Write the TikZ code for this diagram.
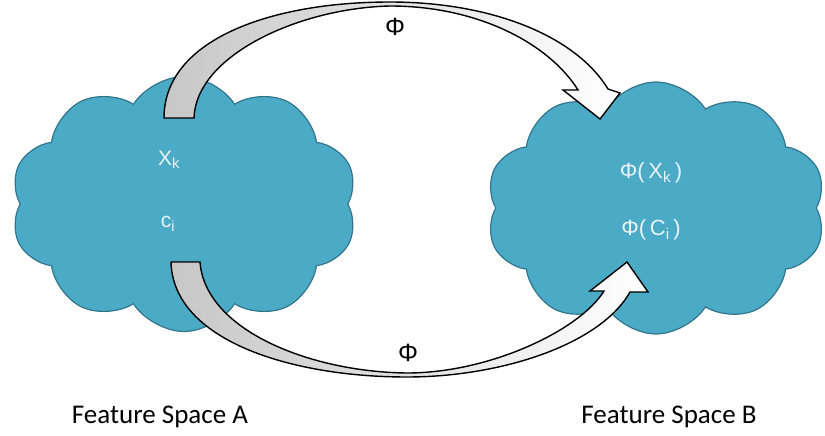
\documentclass[tikz,border=0pt]{standalone}
\usepackage{fontspec}
\setmainfont{Carlito}
\newfontfamily\arialfont{Liberation Sans}
\usetikzlibrary{shapes.symbols}
\definecolor{cloudblue}{RGB}{75,170,198}
\definecolor{cloudedge}{RGB}{50,118,140}
\definecolor{cloudtext}{RGB}{232,244,248}

\begin{document}
\begin{tikzpicture}[x=1pt,y=-1pt,
  space/.style={cloud, cloud puffs=10, cloud puff arc=115, cloud ignores aspect,
    fill=cloudblue, draw=cloudedge, line width=1.2pt, inner sep=0pt},
  inlabel/.style={text=cloudtext, font=\arialfont\fontsize{21}{24}\selectfont},
  maplabel/.style={font=\arialfont\fontsize{25}{28}\selectfont},
  caption/.style={font=\fontsize{27}{30}\selectfont},
  maparrow/.style={draw=black, line width=1.4pt, line join=miter, left color=black!22, right color=white}]
\useasboundingbox (0,0) rectangle (825,436);

\node [space, minimum width=347pt, minimum height=255pt] (spaceA) at (184,204) {};
\node [space, minimum width=340pt, minimum height=252pt] (spaceB) at (656,208) {};

\node [inlabel] (xk) at (169,160) {X\textsubscript{k}};
\node [inlabel] (ci) at (168,224) {c\textsubscript{i}};
\node [inlabel, font=\arialfont\fontsize{22}{24}\selectfont] (phixk) at (651,173) {Φ(\,X\textsubscript{k}\,)};
\node [inlabel, font=\arialfont\fontsize{22}{24}\selectfont] (phici) at (651,230) {Φ(\,C\textsubscript{i}\,)};

% upper map
\filldraw [maparrow] (164,118) -- (194,118)
  .. controls (196,55) and (300,8) .. (390,6)
  .. controls (480,6) and (550,45) .. (578,90)
  -- (563,90) -- (600,119) -- (620,93) -- (608,89)
  .. controls (575,35) and (490,2) .. (390,2)
  .. controls (270,2) and (164,40) .. (164,118) -- cycle;
\node [maplabel] (phitop) at (395,27) {Φ};

% lower map
\filldraw [maparrow] (171,262) -- (200,262)
  .. controls (205,330) and (310,372) .. (407,373)
  .. controls (490,373) and (580,330) .. (604,291)
  -- (590,291) -- (627,262) -- (648,292) -- (630,292)
  .. controls (600,345) and (500,377) .. (407,377)
  .. controls (290,377) and (173,340) .. (171,262) -- cycle;
\node [maplabel] (phibot) at (408,353) {Φ};

\node [caption] (capA) at (160,417) {Feature Space A};
\node [caption] (capB) at (669,417) {Feature Space B};
\end{tikzpicture}
\end{document}
